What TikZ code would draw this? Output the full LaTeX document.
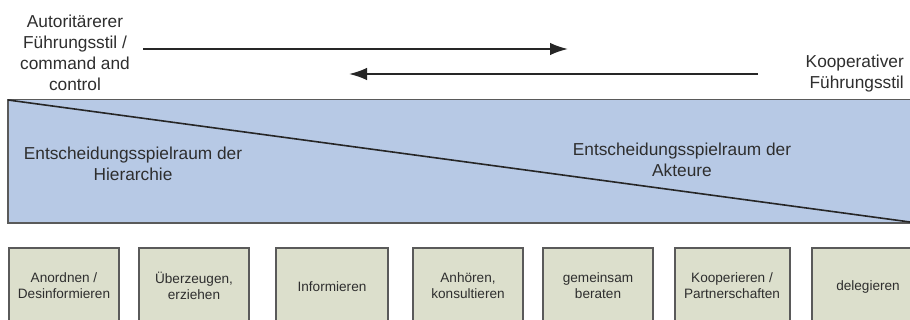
\documentclass[tikz,border=0pt]{standalone}
\usepackage{fontspec}
\setmainfont{Liberation Sans}
\usetikzlibrary{arrows.meta}
\definecolor{bluefill}{HTML}{B7C9E5}
\definecolor{boxfill}{HTML}{DCDFCC}
\definecolor{edgegray}{HTML}{5A5A5A}
\definecolor{txt}{HTML}{2E2E2E}
\tikzset{
  bigtext/.style={font=\fontsize{17.3}{21}\selectfont, text=txt, align=center, inner sep=0pt},
  boxtext/.style={font=\fontsize{13.6}{16}\selectfont, text=txt, align=center, inner sep=0pt},
  actbox/.style={draw=edgegray, line width=1.3pt, fill=boxfill},
  flowarrow/.style={line width=2pt, draw=black!85, -{Latex[length=18pt,width=12.5pt]}}
}
\begin{document}
\begin{tikzpicture}[x=1pt,y=-1pt]
\useasboundingbox (0,0) rectangle (910,320);
\clip (0,0) rectangle (910,320);
\fill[white] (0,0) rectangle (910,320);
% top labels
\node[bigtext] (auto) at (75,53) {Autoritärerer\\Führungsstil /\\command and\\control};
\node[bigtext, align=right, anchor=east] (koop) at (904,74) {Kooperativer\\Führungsstil};
% arrows
\coordinate (a1s) at (143,49);
\coordinate (a1e) at (568,49);
\coordinate (a2s) at (758,74);
\coordinate (a2e) at (349,74);
\draw[flowarrow] (a1s) -- (a1e);
\draw[flowarrow] (a2s) -- (a2e);
% blue band
\coordinate (bandtl) at (8,99.5);
\coordinate (bandbr) at (912,223);
\filldraw[fill=bluefill, draw=edgegray, line width=1.6pt] (bandtl) rectangle (bandbr);
\coordinate (dtl) at (8,100);
\coordinate (dbr) at (910,222);
\draw[line width=1.6pt, draw=black!85] (dtl) -- (dbr);
\node[bigtext] (hier) at (133,164) {Entscheidungsspielraum der\\Hierarchie};
\node[bigtext] (akt) at (682,160) {Entscheidungsspielraum der\\Akteure};
% bottom boxes
\draw[actbox] (9,248) rectangle (119,330);
\draw[actbox] (139,248) rectangle (249,330);
\draw[actbox] (276,248) rectangle (388,330);
\draw[actbox] (413,248) rectangle (523,330);
\draw[actbox] (543,248) rectangle (653,330);
\draw[actbox] (675,248) rectangle (790,330);
\draw[actbox] (812,248) rectangle (924,330);
\node[boxtext] (b1) at (64,286) {Anordnen /\\Desinformieren};
\node[boxtext] (b2) at (194,286) {Überzeugen,\\erziehen};
\node[boxtext] (b3) at (332,287) {Informieren};
\node[boxtext] (b4) at (468,286) {Anhören,\\konsultieren};
\node[boxtext] (b5) at (598,286) {gemeinsam\\beraten};
\node[boxtext] (b6) at (732,286) {Kooperieren /\\Partnerschaften};
\node[boxtext] (b7) at (868,287) {delegieren};
\end{tikzpicture}
\end{document}
